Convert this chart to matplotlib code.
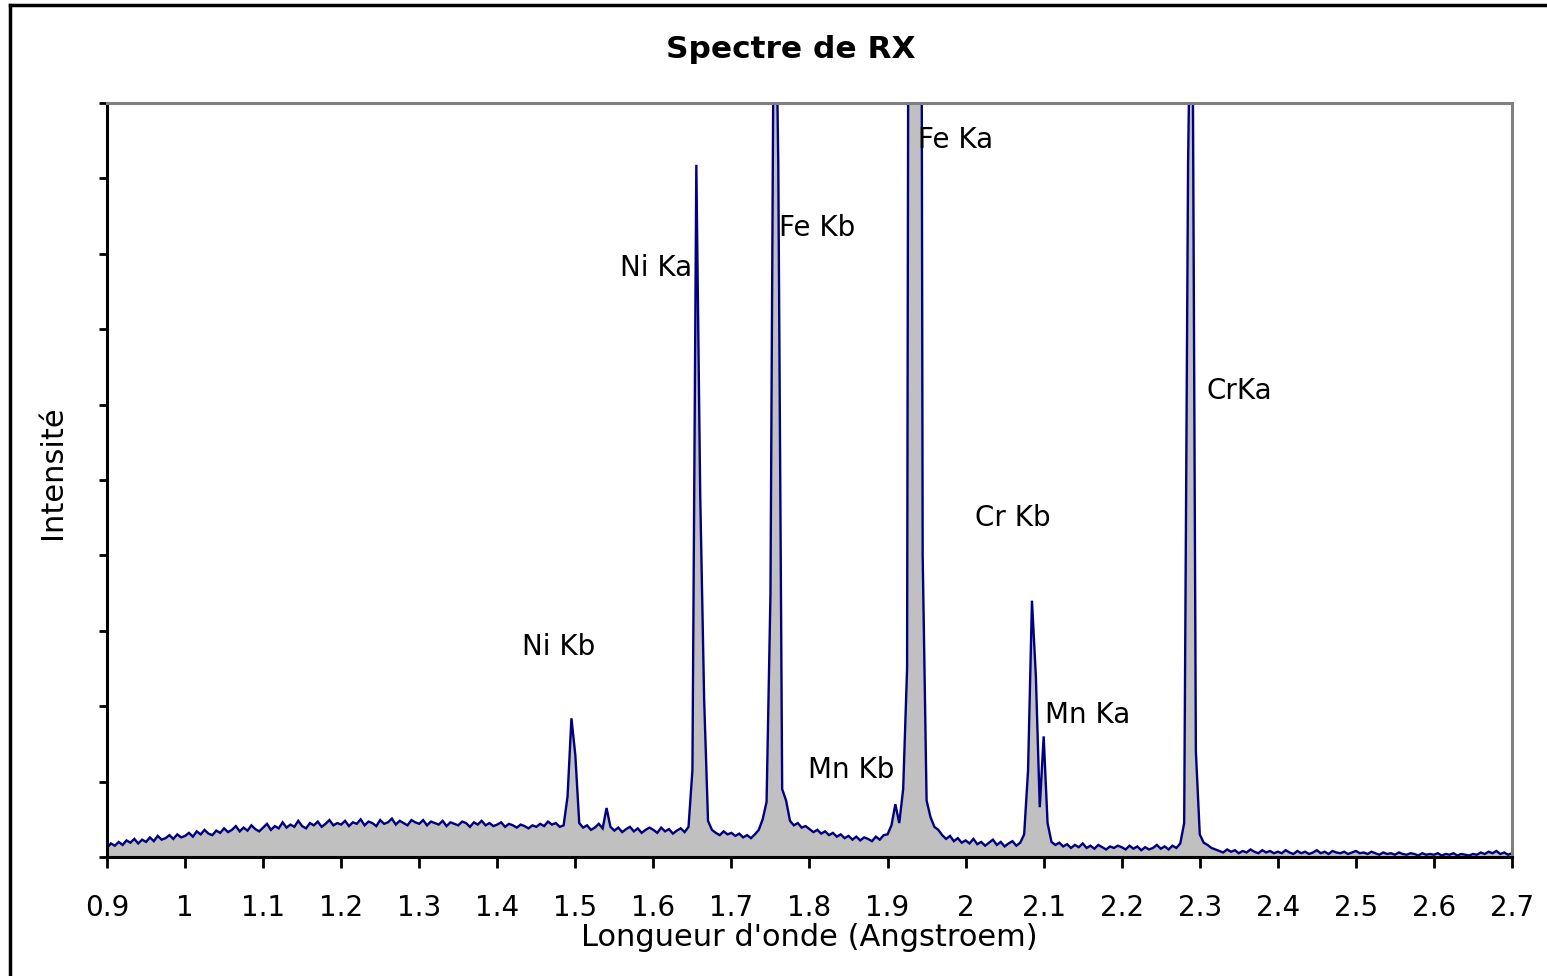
import numpy as np
import matplotlib
matplotlib.use("Agg")
import matplotlib.pyplot as plt
from matplotlib.lines import Line2D

# ---- data ----
wl_start, wl_stop, wl_step = 0.9, 2.7, 0.005
intensity = [
    # 0.90 - 0.995
    1.2, 1.8, 1.5, 2.0, 1.6, 2.2, 1.9, 2.4, 1.8, 2.3, 2.0, 2.6, 2.1, 2.8, 2.3, 2.5, 2.9, 2.4, 3.0, 2.6,
    # 1.00
    2.8, 3.2, 2.7, 3.4, 3.0, 3.6, 3.1, 2.9, 3.5, 3.2, 3.8, 3.3, 3.6, 4.1, 3.4, 3.9, 3.5, 4.2, 3.7, 3.4,
    # 1.10
    3.9, 4.4, 3.6, 4.1, 3.8, 4.6, 3.9, 4.3, 4.0, 4.8, 4.1, 3.8, 4.5, 4.2, 4.7, 4.0, 4.4, 4.9, 4.2, 4.5,
    # 1.20
    4.3, 4.8, 4.1, 4.6, 4.4, 5.0, 4.2, 4.7, 4.5, 4.1, 4.9, 4.4, 4.6, 5.1, 4.3, 4.8, 4.5, 4.2, 4.9, 4.6,
    # 1.30
    4.4, 4.9, 4.2, 4.7, 4.5, 4.3, 4.8, 4.1, 4.6, 4.4, 4.2, 4.7, 4.5, 4.0, 4.6, 4.3, 4.8, 4.2, 4.5, 4.1,
    # 1.40
    4.3, 4.6, 4.0, 4.4, 4.2, 3.9, 4.3, 4.1, 3.8, 4.2, 4.0, 4.4, 4.1, 4.7, 4.3, 4.5, 4.0, 4.2, 8.0, 18.4,
    # 1.50
    13.5, 4.5, 3.9, 4.2, 3.6, 3.9, 4.4, 3.8, 6.5, 4.0, 3.5, 3.9, 3.3, 3.7, 4.0, 3.4, 3.8, 3.2, 3.6, 3.9,
    # 1.60
    3.6, 3.2, 3.9, 3.4, 3.7, 3.1, 3.5, 3.8, 3.3, 4.0, 11.5, 91.8, 48.0, 21.0, 4.8, 3.6, 3.2, 2.9, 3.4, 3.0,
    # 1.70
    3.2, 2.8, 3.1, 2.6, 2.9, 2.5, 3.0, 3.6, 5.0, 7.3, 35.0, 130.0, 92.0, 9.0, 7.5, 4.8, 4.2, 4.5, 3.9, 4.1,
    # 1.80
    3.7, 3.3, 3.6, 3.1, 3.4, 2.9, 3.2, 2.7, 3.0, 2.5, 2.8, 2.3, 2.7, 2.2, 2.6, 2.4, 2.1, 2.7, 2.3, 2.9,
    # 1.90
    3.0, 4.2, 7.0, 4.5, 9.0, 25.0, 300.0, 300.0, 300.0, 40.0, 7.5, 5.3, 4.0, 3.6, 2.9, 2.4, 2.8, 2.1, 2.5, 1.9,
    # 2.00
    2.2, 1.8, 2.4, 1.7, 2.0, 1.5, 1.9, 2.3, 1.6, 2.0, 1.4, 1.8, 2.1, 1.5, 1.9, 3.0, 11.5, 34.0, 24.0, 6.6,
    # 2.10
    16.0, 4.5, 2.0, 1.6, 1.9, 1.4, 1.7, 1.2, 1.6, 1.3, 1.8, 1.2, 1.5, 1.1, 1.6, 1.3, 1.0, 1.4, 1.2, 1.5,
    # 2.20
    1.3, 1.0, 1.5, 1.1, 1.4, 0.9, 1.3, 1.0, 1.2, 1.6, 1.1, 1.4, 1.0, 1.5, 1.2, 1.8, 4.5, 92.0, 130.0, 14.0,
    # 2.30
    3.0, 1.9, 1.6, 1.2, 1.0, 0.8, 0.6, 1.0, 0.7, 0.9, 0.5, 0.8, 0.6, 1.0, 0.7, 0.5, 0.9, 0.6, 0.8, 0.5,
    # 2.40
    0.7, 0.5, 0.9, 0.6, 0.4, 0.8, 0.5, 0.7, 0.4, 0.6, 0.9, 0.5, 0.7, 0.4, 0.8, 0.6, 0.5, 0.7, 0.4, 0.6,
    # 2.50
    0.8, 0.5, 0.6, 0.4, 0.7, 0.5, 0.3, 0.6, 0.4, 0.5, 0.3, 0.6, 0.4, 0.3, 0.5, 0.4, 0.2, 0.5, 0.3, 0.4,
    # 2.60
    0.3, 0.5, 0.2, 0.4, 0.3, 0.5, 0.2, 0.4, 0.3, 0.2, 0.4, 0.3, 0.6, 0.4, 0.7, 0.5, 0.8, 0.4, 0.6, 0.3,
    # 2.70
    0.5,
]
wavelength = np.round(np.arange(len(intensity)) * wl_step + wl_start, 4)

peak_labels = ["Ni Kb", "Ni Ka", "Fe Kb", "Fe Ka", "Mn Kb", "Cr Kb", "Mn Ka", "CrKa"]
label_x = [1.432, 1.557, 1.761, 1.939, 1.798, 2.012, 2.102, 2.309]
label_y = [27.9, 78.1, 83.4, 95.1, 11.5, 45.0, 18.8, 61.8]

x_ticks = [0.9, 1.0, 1.1, 1.2, 1.3, 1.4, 1.5, 1.6, 1.7, 1.8, 1.9, 2.0, 2.1, 2.2, 2.3, 2.4, 2.5, 2.6, 2.7]
x_tick_labels = ["0.9", "1", "1.1", "1.2", "1.3", "1.4", "1.5", "1.6", "1.7", "1.8", "1.9",
                 "2", "2.1", "2.2", "2.3", "2.4", "2.5", "2.6", "2.7"]

title = "Spectre de RX"
xlabel = "Longueur d'onde (Angstroem)"
ylabel = "Intensité"

# ---- figure ----
W, H = 1547, 976
fig = plt.figure(figsize=(W / 100, H / 100), dpi=100)
fig.patch.set_facecolor("white")
plt.rcParams['font.family'] = ['DejaVu Sans']

L, R, T, B = 107, 1512, 103, 857
ax = fig.add_axes([L / W, 1 - B / H, (R - L) / W, (B - T) / H])
ax.fill_between(wavelength, intensity, 0, color="#c0c0c0", linewidth=0)
ax.plot(wavelength, intensity, color="#000080", linewidth=1.7, solid_joinstyle="miter")
ax.set_xlim(0.9, 2.7)
ax.set_ylim(0, 100)

ax.set_xticks(x_ticks)
ax.set_xticklabels(x_tick_labels, fontsize=20)
ax.set_yticks(np.arange(0, 101, 10))
ax.set_yticklabels([])
ax.tick_params(axis="x", direction="out", length=8, width=2, pad=19)
ax.tick_params(axis="y", direction="out", length=6, width=2)

for s in ["left", "bottom"]:
    ax.spines[s].set_color("black")
    ax.spines[s].set_linewidth(2.2)
for s in ["top", "right"]:
    ax.spines[s].set_color("#808080")
    ax.spines[s].set_linewidth(2.2)

for lab, lx, ly in zip(peak_labels, label_x, label_y):
    ax.text(lx, ly, lab, fontsize=20, ha="left", va="center", color="black")

fig.text(791 / W, 1 - 50 / H, title, fontsize=22.5, fontweight="bold", ha="center", va="center")
fig.text(809 / W, 1 - 937 / H, xlabel, fontsize=22, ha="center", va="center")
fig.text(52 / W, 1 - 472 / H, ylabel, fontsize=22, ha="center", va="center", rotation=90)

# outer frame lines (top and left)
fig.add_artist(Line2D([10 / W, 1.0], [1 - 5 / H, 1 - 5 / H], transform=fig.transFigure,
                      color="black", linewidth=2.5))
fig.add_artist(Line2D([10 / W, 10 / W], [0.0, 1 - 5 / H], transform=fig.transFigure,
                      color="black", linewidth=2.5))

fig.savefig("out.png", dpi=100)
